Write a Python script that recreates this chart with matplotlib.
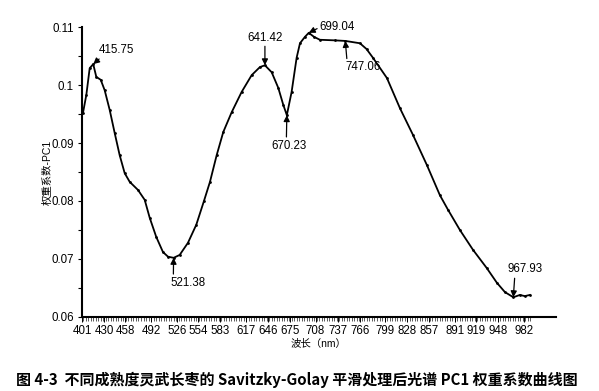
import numpy as np
import matplotlib
matplotlib.use("Agg")
import matplotlib.pyplot as plt
from matplotlib.ticker import FixedLocator

plt.rcParams['font.family'] = ['Liberation Sans', 'Noto Sans CJK SC', 'DejaVu Sans']

# wavelength (nm) and PC1 weight coefficient
wavelength = [402.3, 406.7, 411.1, 415.75, 419.8, 425.6, 430.8, 437.4, 444.0, 450.5,
              457.1, 463.7, 474.6, 483.4, 490.0, 498.6, 507.4, 514.0, 521.38, 529.4,
              540.3, 551.2, 561.3, 569.2, 578.0, 586.7, 597.7, 610.8, 624.0, 634.9,
              641.42, 650.3, 659.0, 665.5, 670.23, 676.5, 683.1, 687.5, 694.0, 699.04,
              706.0, 713.7, 733.4, 747.06, 766.3, 775.0, 783.4, 801.8, 818.9, 836.0,
              854.3, 871.4, 882.0, 897.7, 914.8, 933.2, 946.3, 956.8, 967.93, 976.5,
              983.0, 989.7]
pc1_weight = [0.0952, 0.0983, 0.1029, 0.1036, 0.1014, 0.1009, 0.0991, 0.0957, 0.0917, 0.0879,
              0.0848, 0.0833, 0.0819, 0.0802, 0.0771, 0.0738, 0.0712, 0.0704, 0.0702, 0.0707,
              0.0728, 0.0759, 0.0800, 0.0833, 0.0879, 0.0919, 0.0953, 0.0988, 0.1017, 0.1031,
              0.1034, 0.1022, 0.0995, 0.0966, 0.0948, 0.0988, 0.1047, 0.1072, 0.1083, 0.1090,
              0.1083, 0.1078, 0.1077, 0.1076, 0.1072, 0.1062, 0.1047, 0.1012, 0.0960, 0.0914,
              0.0862, 0.0810, 0.0785, 0.0750, 0.0716, 0.0684, 0.0659, 0.0643, 0.0634, 0.0638,
              0.0636, 0.0638]

x_tick_labels = [401, 430, 458, 492, 526, 554, 583, 617, 646, 675, 708, 737, 766,
                 799, 828, 857, 891, 919, 948, 982]
y_ticks = [0.06, 0.07, 0.08, 0.09, 0.1, 0.11]
y_tick_labels = ['0.06', '0.07', '0.08', '0.09', '0.1', '0.11']

peak_labels = ['415.75', '521.38', '641.42', '670.23', '699.04', '747.06', '967.93']
peak_x = [415.75, 521.38, 641.42, 670.23, 699.04, 747.06, 967.93]
peak_y = [0.1036, 0.0702, 0.1034, 0.0948, 0.1090, 0.1076, 0.0634]

fig = plt.figure(figsize=(5.99, 3.91), dpi=100)
ax = fig.add_axes([0.1369, 0.1893, 0.7913, 0.7416])

ax.plot(wavelength, pc1_weight, color='black', lw=1.3, marker='o', ms=2.0,
        markerfacecolor='black', markeredgewidth=0)

ax.set_xlim(401, 1024)
ax.set_ylim(0.06, 0.11)
for s in ['top', 'right']:
    ax.spines[s].set_visible(False)
for s in ['left', 'bottom']:
    ax.spines[s].set_linewidth(1.5)

ax.set_xticks(x_tick_labels)
ax.set_xticklabels([str(v) for v in x_tick_labels], fontsize=8.3)
ax.xaxis.set_minor_locator(FixedLocator(list(np.arange(402.65, 993, 3.3))))
ax.tick_params(axis='x', which='major', length=3.5, width=0.7, pad=2)
ax.tick_params(axis='x', which='minor', length=3, width=0.45)
ax.set_yticks(y_ticks)
ax.set_yticklabels(y_tick_labels, fontsize=8.3)
ax.yaxis.set_minor_locator(FixedLocator([0.065, 0.075, 0.085, 0.095, 0.105]))
ax.tick_params(axis='y', which='both', length=3, width=0.8, pad=3)

ax.set_xlabel('波长（nm）', fontsize=7.5)
ax.xaxis.set_label_coords(0.5, -0.075)
ax.set_ylabel('权重系数-PC1', fontsize=7.5)
ax.yaxis.set_label_coords(-0.061, 0.5)

# text offsets in points (dx, dy), alignment, arrow start on text box
offsets = [(4, 10), (-2.2, -18), (0, 20), (-11, -22), (8, 4), (0, -19), (-4.5, 20)]
has = ['left', 'left', 'center', 'left', 'left', 'left', 'left']
relpos = [(0.1, 0.0), (0.08, 1.0), (0.5, 0.0), (0.42, 1.0), (0.0, 0.5), (0.05, 1.0), (0.22, 0.0)]
for lab, px, py, (dx, dy), ha, rp in zip(peak_labels, peak_x, peak_y, offsets, has, relpos):
    ax.annotate(lab, xy=(px, py), xytext=(dx, dy), textcoords='offset points',
                ha=ha, va='center', fontsize=8.3,
                arrowprops=dict(arrowstyle='-|>', color='black', lw=0.9,
                                mutation_scale=9, shrinkA=0, shrinkB=0, relpos=rp))

fig.text(0.495, 0.028, '图 4-3  不同成熟度灵武长枣的 Savitzky-Golay 平滑处理后光谱 PC1 权重系数曲线图',
         ha='center', va='center', fontsize=10.8, fontweight='bold',
         family=['Noto Sans CJK SC', 'DejaVu Sans'])

fig.savefig('out.png', dpi=100)
